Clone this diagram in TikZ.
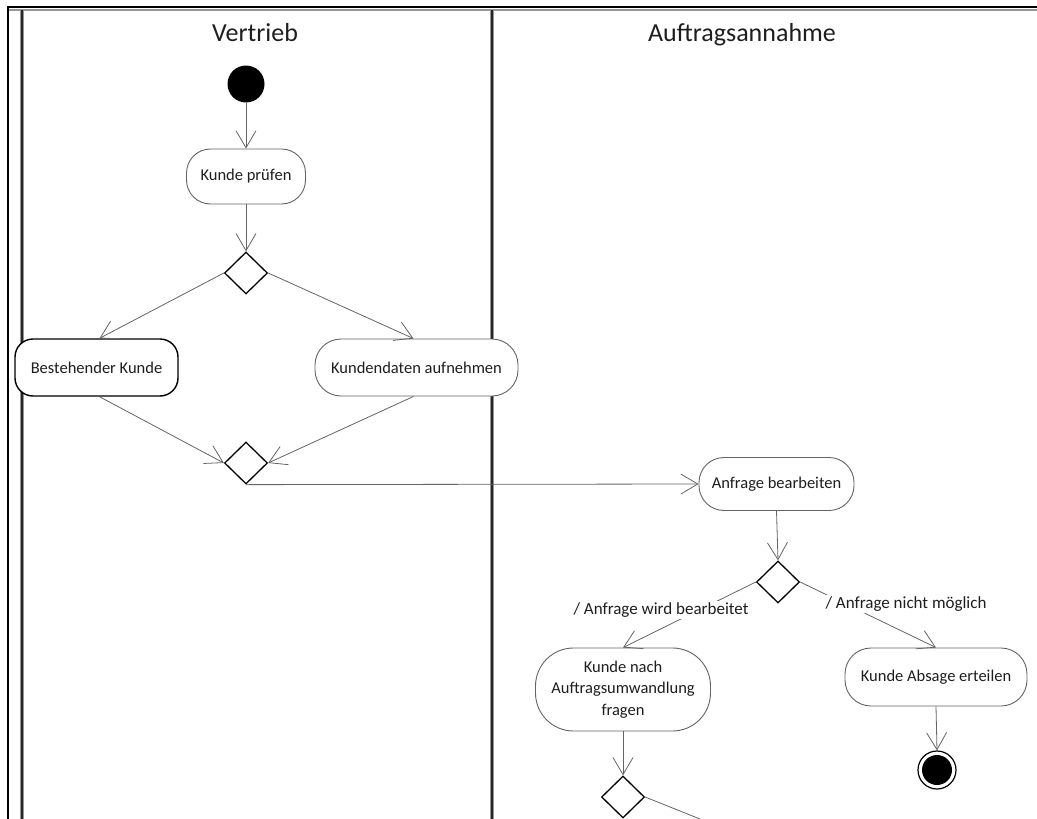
\documentclass[tikz,border=0pt]{standalone}
\usepackage{fontspec}
\setmainfont{Carlito}
\usetikzlibrary{arrows.meta,shapes.geometric}

\definecolor{conn}{RGB}{100,100,100}
\definecolor{txt}{RGB}{30,30,30}
\definecolor{lanegray}{RGB}{150,150,150}

\begin{document}
\begin{tikzpicture}[x=1pt,y=-1pt,
  act/.style={draw=conn, line width=0.9pt, rounded corners=#1, fill=white,
    text=txt, font=\fontsize{16.5}{21.7}\selectfont, align=center, inner sep=0pt},
  decision/.style={diamond, draw=black, line width=1.3pt, fill=white,
    minimum width=43pt, minimum height=42pt, inner sep=0pt},
  flow/.style={draw=conn, line width=0.8pt,
    -{Straight Barb[length=17pt,width=20pt,line width=0.8pt]}},
  guard/.style={fill=white, text=txt, font=\fontsize{17}{20}\selectfont, inner sep=1.5pt},
  lanetitle/.style={text=txt, font=\fontsize{26}{30}\selectfont, anchor=base},
  laneouter/.style={draw=lanegray, line width=3.5pt},
  laneinner/.style={draw=black!85, line width=1.4pt}
]
\useasboundingbox (0,0) rectangle (1037,819);

% swimlane frame
\draw[line width=2pt] (7.5,819) -- (7.5,6.5) -- (1037,6.5);
\draw[draw=lanegray, line width=2pt] (8.5,10) -- (1037,10);
\draw[laneouter] (22,10) -- (22,819);
\draw[laneinner] (22,10) -- (22,819);
\draw[laneouter] (492,10) -- (492,819);
\draw[laneinner] (492,10) -- (492,819);

\node[lanetitle] (vertrieb) at (255,41.5) {Vertrieb};
\node[lanetitle] (auftrag) at (742,41.5) {Auftragsannahme};

% activities and control nodes
\node[circle, fill=black, minimum size=37pt, inner sep=0pt] (start) at (246,84) {};
\node[act=24pt, minimum width=119pt, minimum height=55pt] (kp) at (246,176.5) {Kunde prüfen};
\node[decision] (d1) at (246,273) {};
\node[act=18pt, draw=black, line width=1.4pt, minimum width=163pt, minimum height=57pt] (bk) at (96.5,367.5) {Bestehender Kunde};
\node[act=26pt, minimum width=203pt, minimum height=57pt] (kd) at (416.5,367.5) {Kundendaten aufnehmen};
\node[decision] (d2) at (246,463) {};
\node[act=25pt, minimum width=155pt, minimum height=53pt] (ab) at (776.5,484) {Anfrage bearbeiten};
\node[decision] (d3) at (778,582) {};
\node[act=38pt, minimum width=175pt, minimum height=83pt] (kn) at (623,689.5) {Kunde nach\\Auftragsumwandlung\\fragen};
\node[act=26pt, minimum width=182pt, minimum height=58pt] (ka) at (936,677) {Kunde Absage erteilen};
\node[decision] (d4) at (623,797) {};
\node[circle, draw=black, line width=1.2pt, fill=white, minimum size=38pt, inner sep=0pt] (fin) at (937,770) {};
\node[circle, fill=black, minimum size=30pt, inner sep=0pt] (fincore) at (fin.center) {};
\coordinate (cont) at (700,819);

% control flow
\draw[flow] (start) -- (kp.north);
\draw[flow] (kp.south) -- (d1.north);
\draw[flow] (d1.west) -- ([xshift=3pt]bk.north);
\draw[flow] (d1.east) -- ([xshift=-3pt]kd.north);
\draw[flow] ([xshift=3pt]bk.south) -- (d2.west);
\draw[flow] ([xshift=-3pt]kd.south) -- (d2.east);
\draw[flow] (d2.south) -- (ab.west);
\draw[flow] (ab.south) -- (d3.north);
\draw[flow] (d3.west) -- (kn.north);
\draw[flow] (d3.east) -- (ka.north);
\draw[flow] (kn.south) -- (d4.north);
\draw[draw=conn, line width=0.8pt] (d4.east) -- (cont);
\draw[flow] (ka.south) -- (fin.north);

% guards
\node[guard] (g1) at (661,610) {/ Anfrage wird bearbeitet};
\node[guard] (g2) at (906,604) {/ Anfrage nicht möglich};
\end{tikzpicture}
\end{document}
